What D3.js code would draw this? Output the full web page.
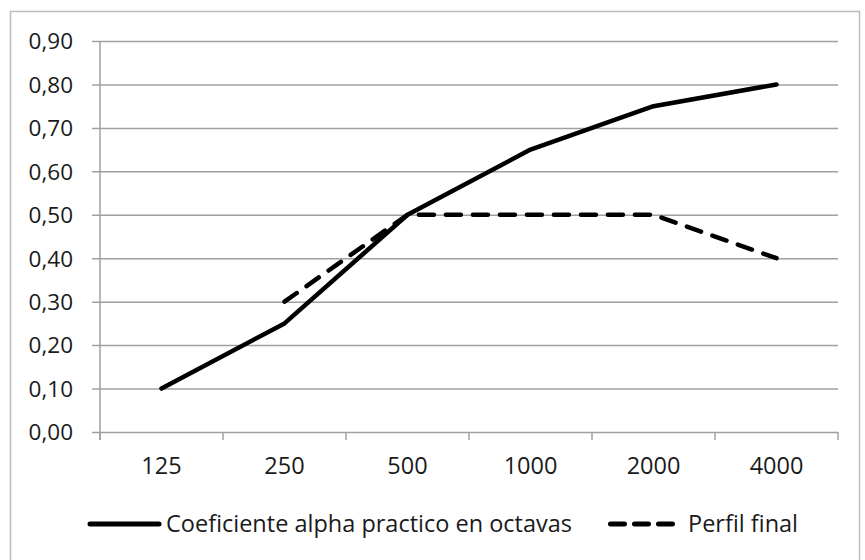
<!DOCTYPE html>
<html>
<head>
<meta charset="utf-8">
<script src="https://cdn.jsdelivr.net/npm/d3@7"></script>
<style>
  body { margin: 0; background: #fff; }
  text { font-family: "Open Sans", "Noto Sans", sans-serif; fill: #1a1a1a; }
</style>
</head>
<body>
<div id="chart"></div>
<script>
// Frequencies (Hz) on the x axis
const categories = ["125", "250", "500", "1000", "2000", "4000"];
// Solid line
const alphaPractico = [0.10, 0.25, 0.50, 0.65, 0.75, 0.80];
// Dashed line (no value at 125)
const perfilFinal = [null, 0.30, 0.50, 0.50, 0.50, 0.40];
const yTicks = [0, 0.1, 0.2, 0.3, 0.4, 0.5, 0.6, 0.7, 0.8, 0.9];
const seriesNames = ["Coeficiente alpha practico en octavas", "Perfil final"];

const W = 865, H = 560;
const plot = { left: 100, right: 838, top: 41, bottom: 432 };

const svg = d3.select("#chart").append("svg")
  .attr("width", W)
  .attr("height", H);

// outer frame
svg.append("rect")
  .attr("x", 10.5).attr("y", 11.5)
  .attr("width", 849).attr("height", 560)
  .attr("fill", "none")
  .attr("stroke", "#bcbcbc")
  .attr("stroke-width", 1.5);

const x = d3.scalePoint().domain(categories).range([plot.left, plot.right]).padding(0.5);
const y = d3.scaleLinear().domain([0, 0.9]).range([plot.bottom, plot.top]);

const fmt = (d) => d3.format(".2f")(d).replace(".", ",");

// Y gridlines + axis
const yAxis = svg.append("g")
  .attr("transform", "translate(" + plot.left + ",0)")
  .call(d3.axisLeft(y).tickValues(yTicks).tickFormat(fmt).tickSize(8).tickPadding(6));
yAxis.select(".domain").remove();
yAxis.selectAll(".tick line")
  .attr("x2", plot.right - plot.left)
  .attr("x1", -8)
  .attr("stroke", "#a0a0a0")
  .attr("stroke-width", 1.5);
yAxis.selectAll(".tick text")
  .attr("x", -27)
  .attr("dy", "0.35em")
  .style("font-size", "22.5px");

// vertical axis line
svg.append("line")
  .attr("x1", plot.left).attr("x2", plot.left)
  .attr("y1", plot.top).attr("y2", plot.bottom + 8)
  .attr("stroke", "#a0a0a0").attr("stroke-width", 1.5);

// X axis: ticks on category boundaries
const step = x.step();
const boundaries = d3.range(categories.length + 1).map((i) => plot.left + i * step);
svg.append("g").selectAll("line")
  .data(boundaries)
  .join("line")
  .attr("x1", (d) => d).attr("x2", (d) => d)
  .attr("y1", plot.bottom).attr("y2", plot.bottom + 8)
  .attr("stroke", "#a0a0a0").attr("stroke-width", 1.5);

svg.append("g").selectAll("text")
  .data(categories)
  .join("text")
  .attr("x", (d) => x(d))
  .attr("y", plot.bottom + 34)
  .attr("dy", "0.35em")
  .attr("text-anchor", "middle")
  .style("font-size", "23.5px")
  .text((d) => d);

// lines
const line = d3.line()
  .defined((d) => d.v != null)
  .x((d) => x(d.c))
  .y((d) => y(d.v));

const toPts = (arr) => arr.map((v, i) => ({ c: categories[i], v: v }));

svg.append("path")
  .datum(toPts(alphaPractico))
  .attr("fill", "none")
  .attr("stroke", "#000")
  .attr("stroke-width", 4.5)
  .attr("stroke-linejoin", "round")
  .attr("stroke-linecap", "round")
  .attr("d", line);

svg.append("path")
  .datum(toPts(perfilFinal))
  .attr("fill", "none")
  .attr("stroke", "#000")
  .attr("stroke-width", 4.5)
  .attr("stroke-dasharray", "15,12")
  .attr("stroke-linecap", "round")
  .attr("d", line);

// legend
const legendY = 524;
svg.append("line")
  .attr("x1", 90).attr("x2", 159)
  .attr("y1", legendY).attr("y2", legendY)
  .attr("stroke", "#000").attr("stroke-width", 5)
  .attr("stroke-linecap", "round");
svg.append("text")
  .attr("x", 166).attr("y", legendY)
  .attr("dy", "0.35em")
  .style("font-size", "23.5px")
  .text(seriesNames[0]);

svg.append("line")
  .attr("x1", 610.5).attr("x2", 675)
  .attr("y1", legendY).attr("y2", legendY)
  .attr("stroke", "#000").attr("stroke-width", 5)
  .attr("stroke-dasharray", "14,10")
  .attr("stroke-linecap", "round");
svg.append("text")
  .attr("x", 688).attr("y", legendY)
  .attr("dy", "0.35em")
  .style("font-size", "23.5px")
  .text(seriesNames[1]);
</script>
</body>
</html>
